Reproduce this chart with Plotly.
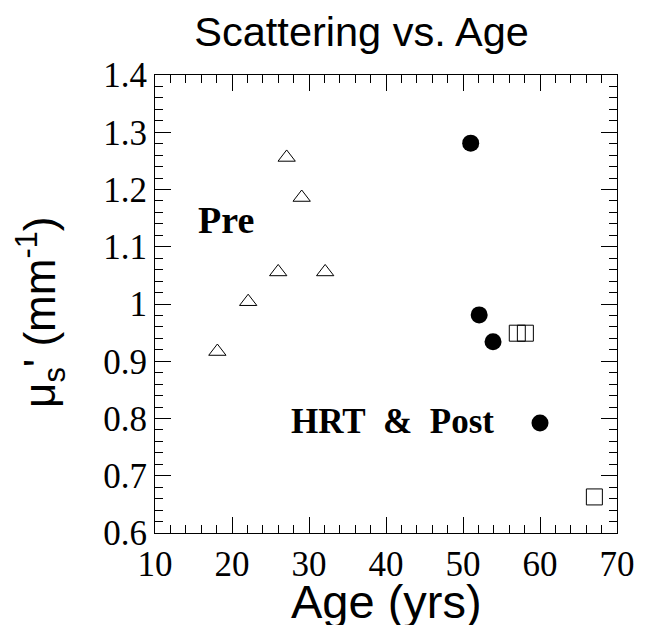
import plotly.graph_objects as go

# Data
pre_age = [18.1, 22.1, 26.0, 27.1, 29.05, 32.1]
pre_mus = [0.917, 1.004, 1.056, 1.256, 1.186, 1.056]

hrt_age = [51.0, 52.1, 53.9, 60.0]
hrt_mus = [1.281, 0.981, 0.934, 0.792]

post_age = [57.05, 58.1, 67.06]
post_mus = [0.949, 0.949, 0.663]

x_ticks = [10, 20, 30, 40, 50, 60, 70]
y_ticks = [0.6, 0.7, 0.8, 0.9, 1.0, 1.1, 1.2, 1.3, 1.4]
y_tick_text = ["0.6", "0.7", "0.8", "0.9", "1", "1.1", "1.2", "1.3", "1.4"]

fig = go.Figure()
fig.add_trace(go.Scatter(x=pre_age, y=pre_mus, mode="markers", name="Pre",
                         marker=dict(symbol="triangle-up-open", size=15, color="black",
                                     line=dict(width=1, color="black"))))
fig.add_trace(go.Scatter(x=hrt_age, y=hrt_mus, mode="markers", name="HRT",
                         marker=dict(symbol="circle", size=17, color="black",
                                     line=dict(width=0))))
fig.add_trace(go.Scatter(x=post_age, y=post_mus, mode="markers", name="Post",
                         marker=dict(symbol="square-open", size=16, color="black",
                                     line=dict(width=1, color="black"))))

serif = "Liberation Serif"
sans = "Liberation Sans"

fig.update_layout(
    width=648, height=625,
    margin=dict(l=155, r=31, t=75, b=92),
    paper_bgcolor="white", plot_bgcolor="white",
    showlegend=False,
    title=dict(text="Scattering vs. Age", x=0.558, xanchor="center",
               y=1 - 31 / 625, yanchor="middle", xref="container", yref="container",
               font=dict(family=sans, size=41.5, color="black")),
    xaxis=dict(range=[10, 70], tickvals=x_ticks, ticks="inside", ticklen=16, tickwidth=1,
               tickcolor="black", showline=True, linecolor="black", linewidth=1.2,
               mirror="allticks", showgrid=False, zeroline=False,
               tickfont=dict(family=serif, size=35, color="black"),
               minor=dict(dtick=2, ticks="inside", ticklen=8, tickwidth=1,
                          tickcolor="black", showgrid=False)),
    yaxis=dict(range=[0.6, 1.4], tickvals=y_ticks, ticktext=y_tick_text, ticks="inside",
               ticklen=16, tickwidth=1, tickcolor="black", showline=True,
               linecolor="black", linewidth=1.2, mirror="allticks", showgrid=False,
               zeroline=False, tickfont=dict(family=serif, size=35, color="black"),
               minor=dict(dtick=0.02, ticks="inside", ticklen=8, tickwidth=1,
                          tickcolor="black", showgrid=False)),
)

fig.add_annotation(text="<b>Pre</b>", x=19.16, y=1.147, xref="x", yref="y",
                   showarrow=False, xanchor="center", yanchor="middle",
                   font=dict(family=serif, size=38, color="black"))
fig.add_annotation(text="<b>HRT&nbsp; &amp;&nbsp; Post</b>", x=40.9, y=0.795, xref="x", yref="y",
                   showarrow=False, xanchor="center", yanchor="middle",
                   font=dict(family=serif, size=35, color="black"))
fig.add_annotation(text="Age (yrs)", x=0.5, y=-0.1496, xref="paper", yref="paper",
                   showarrow=False, xanchor="center", yanchor="middle",
                   font=dict(family=sans, size=47, color="black"))
fig.add_annotation(text="\u03bc<sub>s</sub>' (mm<sup>-1</sup>)", x=-0.249, y=0.4825,
                   xref="paper", yref="paper", textangle=-90,
                   showarrow=False, xanchor="center", yanchor="middle",
                   font=dict(family=sans, size=44, color="black"))

fig.write_html("out.html")
